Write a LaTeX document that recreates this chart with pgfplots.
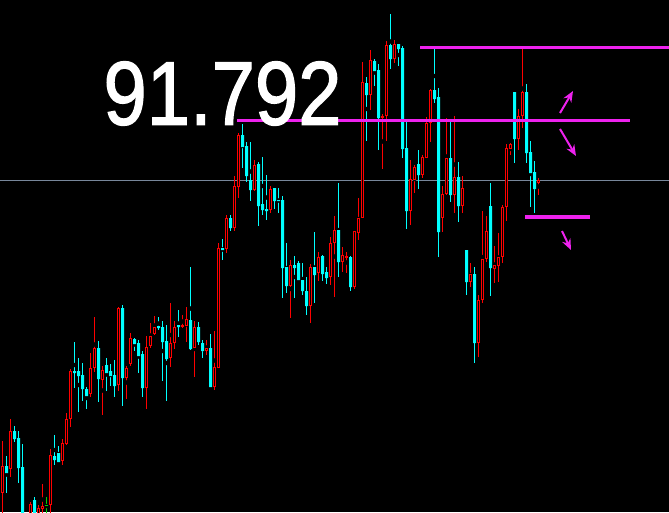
\documentclass[border=0pt]{standalone}
\usepackage{pgfplots}
\usepackage{pgfplotstable}
\pgfplotsset{compat=1.18}
\usepackage{fontspec}
\setmainfont{Liberation Sans}
\newfontfamily\bigfont{Liberation Sans}[BoldFont={Liberation Sans}, BoldFeatures={FakeBold=1.6}]
\usetikzlibrary{arrows.meta}

\definecolor{mtcyan}{RGB}{0,255,255}
\definecolor{mtred}{RGB}{255,0,0}
\definecolor{mtgreen}{RGB}{0,210,0}
\definecolor{mtmag}{RGB}{238,34,238}
\definecolor{mtgrid}{RGB}{120,135,155}

% candles in screen units (y grows downwards): body top/bottom, wick top/bottom
\pgfplotstableread{
x     bt   bb   wt   wb
6.3   466  473  456  493
14.3  431  439  426  442
18.3  438  468  431  483
22.3  467  515  444  515
34.3  500  515  497  515
54.3  456  460  435  465
58.3  453  462  446  462
74.3  371  373  342  388
78.3  371  376  358  412
82.3  375  389  363  401
86.3  389  396  387  409
98.3  348  379  341  402
106.3 365  373  358  391
110.3 371  376  364  386
114.3 375  386  360  397
122.3 308  378  305  406
134.3 339  344  338  351
138.3 343  356  340  373
142.3 354  388  351  397
158.3 326  328  317  330
162.3 327  342  321  381
166.3 341  359  325  401
178.3 325  327  310  337
190.3 320  349  267  350
198.3 327  342  322  345
202.3 343  351  340  358
210.3 348  387  334  387
222.3 248  250  239  260
230.3 218  228  215  231
242.3 135  147  124  168
246.3 146  176  142  182
250.3 180  190  142  201
258.3 164  206  162  226
262.3 204  210  157  215
266.3 209  211  175  220
274.3 188  201  188  209
278.3 200  201  188  213
282.3 200  268  196  298
286.3 267  286  243  293
294.3 265  268  256  298
298.3 263  280  261  280
302.3 280  291  263  295
306.3 291  306  277  315
314.3 267  275  232  303
322.3 256  274  255  281
326.3 272  278  267  284
338.3 230  262  183  277
350.3 257  287  256  291
366.3 83   95   77   141
374.3 61   71   59   86
378.3 70   118  64   150
390.3 45   59   14   69
398.3 44   49   44   66
402.3 48   149  46   158
406.3 148  211  122  229
418.3 164  175  150  189
434.3 90   99   49   103
438.3 97   232  88   257
450.3 158  195  122  202
458.3 177  206  162  222
466.3 250  282  250  295
474.3 274  343  267  363
490.3 206  268  183  296
514.3 92   139  92   163
526.3 92   153  84   163
530.3 152  173  141  207
534.3 172  189  161  213
}\dncandles

\pgfplotstableread{
x     bt   bb   wt   wb
2.3   466  493  441  515
10.3  431  469  419  477
30.3  504  515  502  515
38.3  508  515  505  515
42.3  506  509  484  515
50.3  455  505  449  515
62.3  443  461  439  465
66.3  419  444  413  445
70.3  371  419  369  427
90.3  368  394  353  397
94.3  348  368  317  372
102.3 370  380  366  415
118.3 308  385  307  391
126.3 368  378  366  399
130.3 338  364  333  366
146.3 347  388  336  409
150.3 336  346  323  348
154.3 327  334  316  335
170.3 343  358  303  367
174.3 327  343  321  349
182.3 325  327  315  328
186.3 319  326  307  342
194.3 327  348  321  377
206.3 348  351  340  355
214.3 367  387  331  390
218.3 248  368  243  368
226.3 218  249  215  253
234.3 186  228  176  231
238.3 135  187  133  198
254.3 165  190  160  191
270.3 189  210  186  213
290.3 265  286  260  318
310.3 267  306  264  323
318.3 257  273  252  281
330.3 243  277  237  285
334.3 230  243  216  297
342.3 255  262  247  272
346.3 256  258  252  273
354.3 231  287  231  289
358.3 218  233  198  240
362.3 82   218  62   218
370.3 60   95   50   110
382.3 116  118  114  169
386.3 45   116  41   141
394.3 44   59   40   63
410.3 179  211  160  225
414.3 167  180  165  193
422.3 157  175  155  178
426.3 123  158  117  158
430.3 90   123  89   142
442.3 194  218  186  232
446.3 158  194  118  195
454.3 177  195  116  213
462.3 188  206  176  213
470.3 274  282  263  287
478.3 300  343  295  357
482.3 259  300  211  303
486.3 231  259  216  262
494.3 265  269  246  283
498.3 257  266  233  282
502.3 207  257  205  263
506.3 148  207  144  221
510.3 144  149  143  155
518.3 116  139  109  150
522.3 92   116  49   128
538.3 180  183  178  195
}\upcandles

\pgfplotstableread{
x     bt   bb   wt   wb
46.3  505  506  497  515
}\greencandles

\pgfplotsset{
    chart/.style={
        width         = 669pt,
        height        = 512pt,
        scale only axis,
        hide axis,
        xmin          = 0,
        xmax          = 669,
        ymin          = 0,
        ymax          = 512,
        y dir         = reverse,
        enlargelimits = false,
        clip          = true},
    wick/.style={only marks, mark=none, forget plot,
        error bars/.cd, y dir=both, y explicit, error mark=none,
        error bar style={draw=#1, line width=1pt}},
}

\begin{document}
\begin{tikzpicture}
    \path[use as bounding box, fill=black] (0,0) rectangle (669pt,512pt);

    % grid line and wicks
    \begin{axis}[chart]
        \addplot[mtgrid, line width=1pt, forget plot] coordinates {(0,180.5) (669,180.5)};

        \addplot[wick=mtcyan] table[x expr=\thisrow{x}+0.2, y expr={(\thisrow{wt}+\thisrow{wb})/2},
            y error expr={(\thisrow{wb}-\thisrow{wt})/2}] {\dncandles};
        \addplot[wick=mtred] table[x expr=\thisrow{x}+0.2, y expr={(\thisrow{wt}+\thisrow{wb})/2},
            y error expr={(\thisrow{wb}-\thisrow{wt})/2}] {\upcandles};
        \addplot[wick=mtgreen] table[x expr=\thisrow{x}+0.2, y expr={(\thisrow{wt}+\thisrow{wb})/2},
            y error expr={(\thisrow{wb}-\thisrow{wt})/2}] {\greencandles};
    \end{axis}

    % falling candles: filled cyan bodies
    \begin{axis}[chart, ybar stacked, bar width=3pt]
        \addplot[draw=none, fill=none] table[x expr=\thisrow{x}+0.2, y=bt] {\dncandles};
        \addplot[draw=none, fill=mtcyan] table[x expr=\thisrow{x}+0.2,
            y expr={max(1,\thisrow{bb}-\thisrow{bt})}] {\dncandles};
    \end{axis}

    % rising candles: hollow red bodies
    \begin{axis}[chart, ybar stacked, bar width=2pt]
        \addplot[draw=none, fill=none] table[x expr=\thisrow{x}+0.2, y expr=\thisrow{bt}+0.5] {\upcandles};
        \addplot[draw=mtred, fill=black, line width=1.25pt] table[x expr=\thisrow{x}+0.2,
            y expr={max(0.1,\thisrow{bb}-\thisrow{bt}-1)}] {\upcandles};
    \end{axis}

    % green candle
    \begin{axis}[chart, ybar stacked, bar width=3pt]
        \addplot[draw=none, fill=none] table[x expr=\thisrow{x}+0.2, y=bt] {\greencandles};
        \addplot[draw=none, fill=mtgreen] table[x expr=\thisrow{x}+0.2,
            y expr={max(1,\thisrow{bb}-\thisrow{bt})}] {\greencandles};
    \end{axis}

    % levels, arrows, price
    \begin{axis}[chart]
        \addplot[mtmag, line width=3.5pt, forget plot] coordinates {(420,47.5) (669,47.5)};
        \addplot[mtmag, line width=3pt, forget plot] coordinates {(237,120.5) (630,120.5)};
        \addplot[mtmag, line width=4pt, forget plot] coordinates {(525,217) (590,217)};

        \addplot[mtmag, line width=2pt, -{Stealth[length=11pt, width=9pt]}, forget plot]
            coordinates {(560,113) (573,91)};
        \addplot[mtmag, line width=2pt, -{Stealth[length=11pt, width=9pt]}, forget plot]
            coordinates {(560,129) (576,156)};
        \addplot[mtmag, line width=2pt, -{Stealth[length=11pt, width=9pt]}, forget plot]
            coordinates {(562,231) (571,250)};

        \node[white, inner sep=0pt] at (axis cs:222.5,93.5)
            {\resizebox{238pt}{63pt}{\bigfont\bfseries 91.792}};
    \end{axis}
\end{tikzpicture}
\end{document}
